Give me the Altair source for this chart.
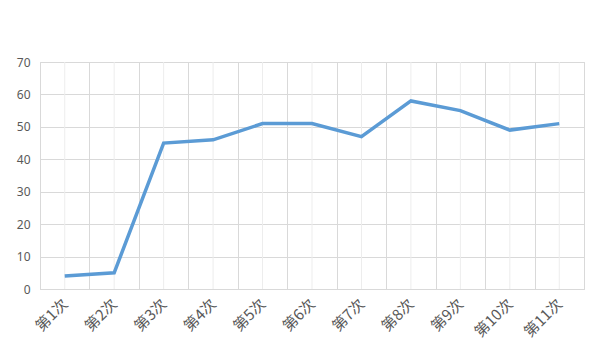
import altair as alt
import pandas as pd

categories = ["第1次", "第2次", "第3次", "第4次", "第5次", "第6次", "第7次", "第8次", "第9次", "第10次", "第11次"]
values = [4, 5, 45, 46, 51, 51, 47, 58, 55, 49, 51]

df = pd.DataFrame({"cat": categories, "val": values})

xscale = alt.Scale(domain=categories, paddingInner=0, paddingOuter=0)
yscale = alt.Scale(domain=[0, 70], nice=False)

xaxis = alt.Axis(tickBand="extent", grid=True, gridColor="#d9d9d9", ticks=False,
                 domainColor="#d9d9d9", labelAngle=-45, labelAlign="right",
                 labelBaseline="middle", labelPadding=12, labelFontSize=15,
                 labelColor="#595959", labelFont="Noto Sans CJK SC")

centers = alt.Chart(df).mark_rule(color="#ededed", strokeWidth=1).encode(
    x=alt.X("cat:N", scale=xscale, sort=categories, title=None, axis=xaxis),
    y=alt.value(0),
    y2=alt.value(227),
)

line = alt.Chart(df).mark_line(color="#5b9bd5", strokeWidth=3.5, strokeCap="butt").encode(
    x=alt.X("cat:N", scale=xscale, sort=categories, title=None, axis=xaxis),
    y=alt.Y("val:Q", scale=yscale, title=None,
            axis=alt.Axis(values=[0, 10, 20, 30, 40, 50, 60, 70], grid=True, gridColor="#d9d9d9",
                          ticks=False, domain=False, labelPadding=10, labelFontSize=12,
                          labelColor="#595959", labelFont="Noto Sans")),
)

chart = alt.layer(centers, line).properties(
    width=544, height=227,
    autosize=alt.AutoSizeParams(type="none"),
    padding={"left": 40, "top": 62, "right": 18, "bottom": 67},
).configure_view(stroke="#d9d9d9")

chart.save("out.html", embed_options={"renderer": "svg", "actions": False})
